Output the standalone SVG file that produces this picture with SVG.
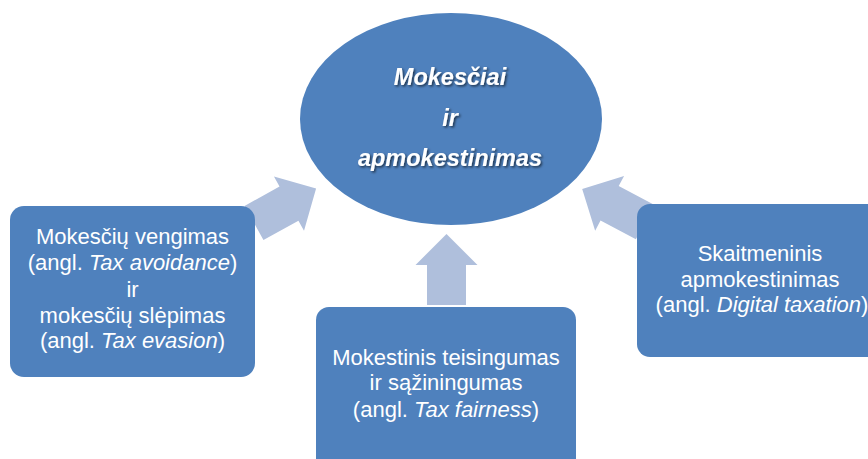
<svg xmlns="http://www.w3.org/2000/svg" width="868" height="459" viewBox="0 0 868 459">
  <style>
    .node { fill: #4F81BD; }
    .arrow { fill: #AFBFDC; }
    .t { font-family: "Liberation Sans", Arial, sans-serif; font-size: 22px; fill: #FFFFFF; text-anchor: middle; }
    .title { font-family: "Liberation Sans", Arial, sans-serif; font-size: 23.5px; font-weight: bold; font-style: italic; fill: #FFFFFF; text-anchor: middle; filter: url(#shadow); }
    .it { font-style: italic; }
  </style>
  <defs>
    <filter id="shadow" x="-20%" y="-40%" width="140%" height="180%">
      <feDropShadow dx="1.5" dy="1.5" stdDeviation="1" flood-color="#000000" flood-opacity="0.6"/>
    </filter>
    <polygon id="blockArrow" points="0,-19.5 40,-19.5 40,-31 71,0 40,31 40,19.5 0,19.5"/>
  </defs>
  <rect width="868" height="459" fill="#FFFFFF"/>

  <g id="connectors">
    <use href="#blockArrow" class="arrow" transform="translate(254,223) rotate(-29)"/>
    <use href="#blockArrow" class="arrow" transform="translate(446.5,305) rotate(-90)"/>
    <use href="#blockArrow" class="arrow" transform="translate(645,222) rotate(-152.2)"/>
  </g>

  <g id="center">
    <ellipse class="node" cx="451" cy="119" rx="151" ry="106"/>
    <text class="title" x="450" y="85">Mokesčiai</text>
    <text class="title" x="450" y="126">ir</text>
    <text class="title" x="450" y="166">apmokestinimas</text>
  </g>

  <g id="avoidance">
    <rect class="node" x="10" y="206" width="245" height="171" rx="14"/>
    <text class="t" x="132.5" y="244">Mokesčių vengimas</text>
    <text class="t" x="132.5" y="270">(angl. <tspan class="it">Tax avoidance</tspan>)</text>
    <text class="t" x="132.5" y="297">ir</text>
    <text class="t" x="132.5" y="323">mokesčių slėpimas</text>
    <text class="t" x="132.5" y="348">(angl. <tspan class="it">Tax evasion</tspan>)</text>
  </g>

  <g id="fairness">
    <rect class="node" x="316" y="307" width="260" height="175" rx="13"/>
    <text class="t" x="446" y="365">Mokestinis teisingumas</text>
    <text class="t" x="446" y="390">ir sąžiningumas</text>
    <text class="t" x="446" y="417">(angl. <tspan class="it">Tax fairness</tspan>)</text>
  </g>

  <g id="digital">
    <rect class="node" x="637" y="204" width="248" height="153" rx="13"/>
    <text class="t" x="760" y="261">Skaitmeninis</text>
    <text class="t" x="760" y="287">apmokestinimas</text>
    <text class="t" x="762" y="312">(angl. <tspan class="it">Digital taxation</tspan>)</text>
  </g>
</svg>
